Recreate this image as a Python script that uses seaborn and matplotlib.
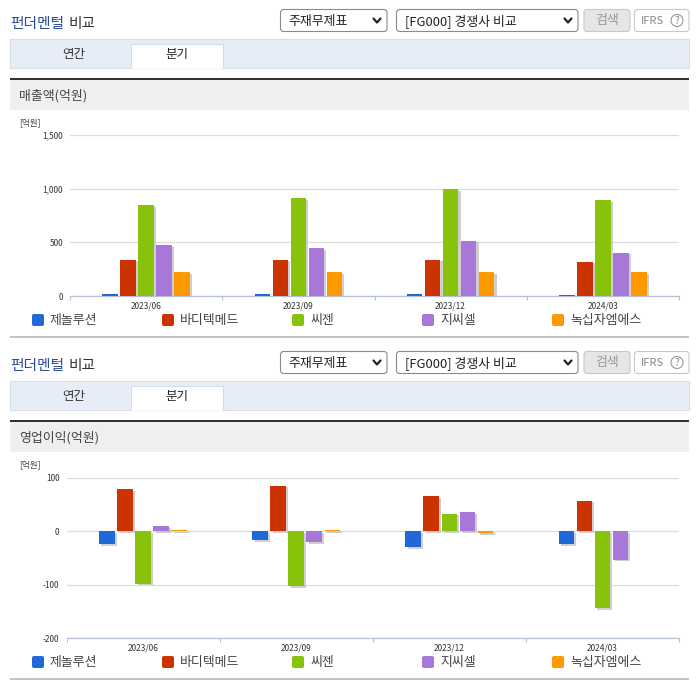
"""Fundamentals comparison panels: quarterly sales and operating profit."""
import matplotlib
matplotlib.use('Agg')
import matplotlib.pyplot as plt
import matplotlib.patheffects as pe
from matplotlib.patches import FancyBboxPatch, Rectangle, Circle
import pandas as pd
import seaborn as sns

# -- data ---------------------------------------------------------------------
quarters = ['2023/06', '2023/09', '2023/12', '2024/03']
companies = ['제놀루션', '바디텍메드', '씨젠', '지씨셀', '녹십자엠에스']
colors = ['#2068d8', '#cc3300', '#88c20a', '#a878d8', '#ff9900']

sales_genolution = [15, 15, 15, 5]
sales_boditech = [340, 340, 340, 320]
sales_seegene = [850, 915, 1000, 895]
sales_gccell = [475, 445, 515, 405]
sales_gcms = [225, 225, 225, 225]

profit_genolution = [-24, -17, -30, -24]
profit_boditech = [79, 85, 66, 57]
profit_seegene = [-98, -102, 33, -144]
profit_gccell = [10, -20, 36, -53]
profit_gcms = [2, 3, -4, 0]

sales_ticks = [0, 500, 1000, 1500]
profit_ticks = [-200, -100, 0, 100]

W, H = 696, 684
sns.set_theme(style='white')
plt.rcParams['font.family'] = ['Noto Sans CJK KR', 'DejaVu Sans']

fig = plt.figure(figsize=(W / 100, H / 100), dpi=100)
ui = fig.add_axes([0, 0, 1, 1])
ui.set_xlim(0, W)
ui.set_ylim(H, 0)
ui.axis('off')


def box(x0, y0, x1, y1, fc, ec='none', lw=1, radius=0):
    if radius:
        p = FancyBboxPatch((x0 + radius, y0 + radius), x1 - x0 - 2 * radius, y1 - y0 - 2 * radius,
                           boxstyle=f'round,pad={radius},rounding_size={radius}',
                           fc=fc, ec=ec, lw=lw)
    else:
        p = Rectangle((x0, y0), x1 - x0, y1 - y0, fc=fc, ec=ec, lw=lw)
    ui.add_patch(p)


def label(x, y, s, size=9.3, color='#333333', ha='left', **kw):
    # the CJK font sits a little high when centred
    ui.text(x, y + 1, s, fontsize=size, color=color, ha=ha, va='center', **kw)


def chevron(x, y):
    ui.plot([x - 3.5, x, x + 3.5], [y - 2, y + 2, y - 2], color='#222222', lw=1.6)


# header, tabs, section band and legend for one panel
def chrome(dy, band_title):
    label(10, 23 + dy, '펀더멘털', size=10.6, color='#2a4da0', fontweight='medium')
    label(69, 23 + dy, '비교', size=10.6, color='#333333', fontweight='medium')

    box(280.5, 9.5 + dy, 387, 31.5 + dy, '#ffffff', '#8a8a8a', 0.8, 3)
    label(288, 20.5 + dy, '주재무제표', color='#222222')
    chevron(377, 20.5 + dy)
    box(396.5, 9.5 + dy, 578, 31.5 + dy, '#ffffff', '#8a8a8a', 0.8, 3)
    label(405, 20.5 + dy, '[FG000] 경쟁사 비교', color='#222222')
    chevron(568, 20.5 + dy)
    box(584, 9.5 + dy, 630, 31.5 + dy, '#e6e6e6', '#c8c8c8', 0.8, 3)
    label(607, 19.5 + dy, '검색', color='#999999', ha='center')
    box(634.5, 9.5 + dy, 689, 31.5 + dy, '#ffffff', '#c8c8c8', 0.8, 3)
    label(641, 19.5 + dy, 'IFRS', size=8, color='#888888')
    ui.add_patch(Circle((677, 20.5 + dy), 6, fc='none', ec='#999999', lw=0.8))
    label(677, 19.5 + dy, '?', size=7, color='#888888', ha='center')

    box(10, 38.5 + dy, 689, 67.5 + dy, '#e6edf7', '#d5dde8', 0.8)
    label(74, 53.5 + dy, '연간', size=9, color='#333333', ha='center')
    box(131, 43.5 + dy, 223, 67.5 + dy, '#ffffff', '#d5dde8', 0.8)
    ui.plot([131.6, 222.4], [67.5 + dy, 67.5 + dy], color='#ffffff', lw=1.2)
    label(177, 53.5 + dy, '분기', size=9, color='#222222', ha='center')

    box(10, 78 + dy, 689, 80 + dy, '#333333')
    box(10, 80 + dy, 689, 110 + dy, '#efefef')
    label(19, 94.5 + dy, band_title, color='#444444')
    label(19, 121.5 + dy, '[억원]', size=6.2, color='#444444')

    for name, col, x in zip(companies, colors, [32, 162, 292, 422, 552]):
        box(x, 314 + dy, x + 12, 326 + dy, col, radius=2)
        label(x + 18, 319.5 + dy, name, color='#444444')
    box(10, 336 + dy, 689, 338 + dy, '#c4c4c4')


# one grouped bar chart, placed by its pixel box
def bar_panel(series, ticks, left, top, bottom):
    right = 679
    ax = fig.add_axes([left / W, 1 - bottom / H, (right - left) / W, (bottom - top) / H])
    ax.patch.set_alpha(0)

    df = pd.DataFrame(dict(zip(companies, series)), index=quarters)
    df = df.rename_axis('quarter').reset_index().melt('quarter', var_name='company', value_name='value')
    sns.barplot(data=df, x='quarter', y='value', hue='company', hue_order=companies,
                palette=colors, width=0.59, gap=0.14, saturation=1, legend=False,
                ax=ax, zorder=3, edgecolor='none', linewidth=0)
    for bar in ax.patches:
        bar.set_path_effects([pe.SimplePatchShadow(offset=(1.6, -1.2), shadow_rgbFace='#c4c4c4', alpha=0.8),
                              pe.Normal()])

    ax.set_xlim(-0.5, 3.5)
    ax.set_ylim(ticks[0], ticks[-1])
    ax.set_xlabel('')
    ax.set_ylabel('')
    ax.set_yticks(ticks)
    ax.set_yticklabels([f'{t:,}' for t in ticks], fontsize=6, color='#333333')
    ax.set_xticks(range(len(quarters)))
    ax.set_xticklabels(quarters, fontsize=6, color='#333333')
    ax.set_xticks([-0.5, 0.5, 1.5, 2.5, 3.5], minor=True)
    ax.tick_params(axis='x', which='major', bottom=False, length=0, pad=4)
    ax.tick_params(axis='x', which='minor', bottom=True, length=3, width=0.8, color='#b4c0d4')
    ax.tick_params(axis='y', left=False, length=0, pad=5)
    ax.yaxis.grid(True, color='#dcdcdc', lw=0.9, zorder=0)
    ax.set_axisbelow(True)
    for side in ['top', 'right', 'left']:
        ax.spines[side].set_visible(False)
    ax.spines['bottom'].set_color('#b4c0d4')
    ax.spines['bottom'].set_linewidth(0.9)
    return ax


chrome(0, '매출액(억원)')
chrome(342, '영업이익(억원)')

bar_panel([sales_genolution, sales_boditech, sales_seegene, sales_gccell, sales_gcms],
          sales_ticks, 70, 135.3, 296)
bar_panel([profit_genolution, profit_boditech, profit_seegene, profit_gccell, profit_gcms],
          profit_ticks, 66.5, 477.7, 638.3)

fig.savefig('out.png', dpi=100)
